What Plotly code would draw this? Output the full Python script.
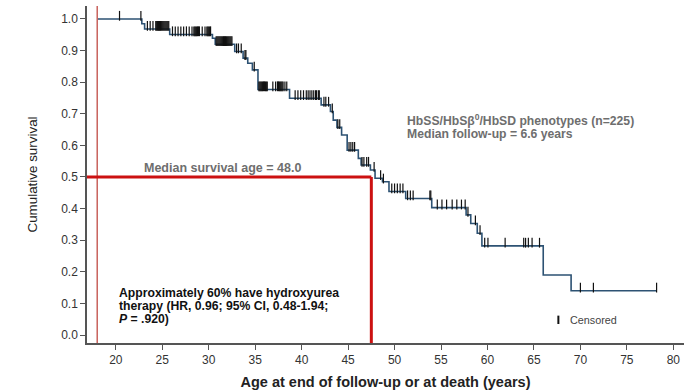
import numpy as np
import plotly.graph_objects as go

# ---- Data ----
start_age = 18.0
event_ages = [22.8, 23.1, 25.8, 30.4, 30.7, 32.8, 33.7, 34.2, 34.7, 35.3, 38.7, 42.1, 43.1, 43.4,
              43.8, 44.3, 44.9, 46.1, 46.4, 47.4, 47.9, 48.7, 49.4, 51.2, 54.0, 57.7, 58.2, 58.9,
              59.4, 66.0, 69.0]
survival = [0.985, 0.968, 0.951, 0.939, 0.920, 0.897, 0.876, 0.860, 0.839, 0.777, 0.749, 0.728,
            0.707, 0.680, 0.657, 0.633, 0.585, 0.559, 0.538, 0.522, 0.496, 0.485, 0.454, 0.432,
            0.403, 0.380, 0.353, 0.322, 0.282, 0.190, 0.140]
end_age = 78.2

censored_ages = [
    20.4, 22.7,
    23.4, 23.7, 24.0, 24.3, 24.4, 24.5, 24.6, 24.7, 24.8, 24.9, 25.0, 25.1, 25.2, 25.3, 25.4, 25.5, 25.6, 25.7,
    26.1, 26.4, 26.7, 27.0, 27.3, 27.6, 27.9, 28.2, 28.4, 28.5, 28.6, 28.7, 28.8, 28.9, 29.0,
    29.3, 29.6, 29.8, 29.9, 30.0, 30.1, 30.2,
    30.8, 30.9, 31.0, 31.1, 31.2, 31.3, 31.4, 31.5, 31.6, 31.7, 31.8, 31.9, 32.0, 32.1, 32.2, 32.3, 32.4, 32.5,
    33.0, 33.2, 33.5, 33.9, 34.0, 34.9,
    35.4, 35.5, 35.6, 35.7, 35.8, 35.9, 36.0, 36.1, 36.2, 36.3, 36.9, 37.2, 37.4, 37.5, 37.6, 37.7,
    37.8, 37.9, 38.0, 38.2, 38.4,
    39.3, 39.6, 39.9, 40.2, 40.5, 40.7, 40.9, 41.1, 41.3, 41.5, 41.6, 41.8, 41.9,
    42.4, 42.6, 42.9, 43.3, 43.9, 44.1,
    45.1, 45.3, 45.5, 45.7, 46.5, 46.7, 47.0, 47.2, 47.8, 48.5, 48.8,
    49.7, 50.0, 50.3, 50.6, 50.9, 51.4, 51.7, 52.0, 53.8, 53.9,
    54.6, 55.1, 55.6, 56.2, 56.7, 57.2, 57.6,
    57.9, 58.7, 59.2, 59.7, 60.05, 61.9, 63.9, 64.1, 64.4, 64.8, 65.6, 70.0, 71.4, 78.2,
]

median_line_age = 47.5
median_line_surv = 0.5
x_ticks = [20, 25, 30, 35, 40, 45, 50, 55, 60, 65, 70, 75, 80]
y_ticks = [0.0, 0.1, 0.2, 0.3, 0.4, 0.5, 0.6, 0.7, 0.8, 0.9, 1.0]

# ---- Derived step curve ----
curve_x = [start_age] + event_ages + [end_age]
curve_y = [1.0] + survival + [survival[-1]]

ev = np.array(event_ages)
sv = np.array([1.0] + survival)
cens = np.array(censored_ages)
cens_y = sv[np.searchsorted(ev, cens, side="right")]

X_RANGE = [16.9, 81.15]
Y_RANGE = [-0.0253, 1.041]

fig = go.Figure()
fig.add_trace(go.Scatter(x=curve_x, y=curve_y, mode="lines", line=dict(shape="hv", color="#2d5273", width=1.6),
                         hoverinfo="skip", showlegend=False))
fig.add_trace(go.Scatter(x=cens, y=cens_y + 0.010, mode="markers",
                         marker=dict(symbol="line-ns", size=7, line=dict(color="#111111", width=1.2)),
                         showlegend=False))

# reference lines
fig.add_shape(type="line", x0=start_age, x1=start_age, y0=0, y1=1, xref="x", yref="paper",
              line=dict(color="#c9625c", width=1.5))
fig.add_shape(type="line", x0=X_RANGE[0], x1=median_line_age, y0=median_line_surv, y1=median_line_surv,
              xref="x", yref="y", line=dict(color="#cc1111", width=3))
fig.add_shape(type="line", x0=median_line_age, x1=median_line_age, y0=Y_RANGE[0], y1=median_line_surv,
              xref="x", yref="y", line=dict(color="#cc1111", width=3))

FONT = "Liberation Sans, Arial, sans-serif"
gray = "#6e6e6e"

def ann(text, x, y, size, color, xanchor="left", bold=True):
    fig.add_annotation(x=x, y=y, xref="x", yref="y", text=(f"<b>{text}</b>" if bold else text),
                       showarrow=False, xanchor=xanchor, yanchor="middle",
                       font=dict(family=FONT, size=size, color=color))

ann("Median survival age = 48.0", 31.5, 0.530, 12.5, gray, xanchor="center")
ann("HbSS/HbSβ<sup>0</sup>/HbSD phenotypes (n=225)", 51.15, 0.680, 12.2, gray)
ann("Median follow-up = 6.6 years", 51.15, 0.637, 12.2, gray)
ann("Approximately 60% have hydroxyurea", 20.15, 0.132, 12.2, "#111111")
ann("therapy (HR, 0.96; 95% CI, 0.48-1.94;", 20.15, 0.091, 12.2, "#111111")
ann("<i>P</i> = .920)", 20.15, 0.050, 12.2, "#111111")
ann("Censored", 68.65, 0.048, 10.8, "#444444", bold=False)
fig.add_trace(go.Scatter(x=[67.63], y=[0.048], mode="markers",
                         marker=dict(symbol="line-ns", size=6, line=dict(color="#111111", width=2)),
                         showlegend=False, hoverinfo="skip"))

axis_common = dict(showgrid=False, zeroline=False, showline=True, linecolor="#555555", linewidth=1.5,
                   ticks="outside", ticklen=5, tickcolor="#555555", tickwidth=1.2,
                   tickfont=dict(family=FONT, size=12, color="#333333"))
fig.update_xaxes(range=X_RANGE, tickvals=x_ticks, **axis_common,
                 title=dict(text="<b>Age at end of follow-up or at death (years)</b>",
                            font=dict(family=FONT, size=14.5, color="#222222"), standoff=11))
fig.update_yaxes(range=Y_RANGE, tickvals=y_ticks, tickformat=".1f", **axis_common,
                 title=dict(text="Cumulative survival", font=dict(family=FONT, size=13.4, color="#222222"),
                            standoff=20))
fig.update_layout(width=684, height=392, margin=dict(l=87, r=0, t=6, b=49),
                  plot_bgcolor="white", paper_bgcolor="white")

fig.write_html("out.html")
